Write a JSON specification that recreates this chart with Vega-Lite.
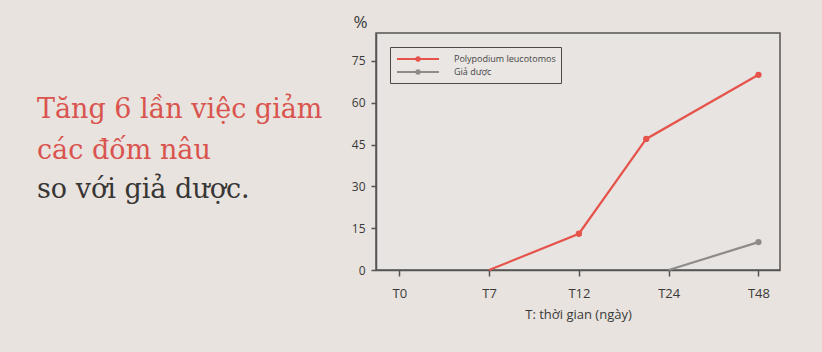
{
  "$schema": "https://vega.github.io/schema/vega-lite/v6.json",
  "autosize": {"type": "none"},
  "width": 404,
  "height": 237,
  "padding": {"left": 376, "top": 33, "right": 42, "bottom": 82},
  "background": "#e8e3de",
  "title": {
    "text": ["Tăng 6 lần việc giảm", "các đốm nâu"],
    "subtitle": "so với giả dược.",
    "anchor": "start",
    "frame": "group",
    "orient": "top",
    "dx": -339,
    "dy": 195,
    "font": "DejaVu Serif",
    "fontSize": 27,
    "fontWeight": "normal",
    "lineHeight": 41,
    "color": "#d9544e",
    "subtitleFont": "DejaVu Serif",
    "subtitleFontSize": 27,
    "subtitleColor": "#383635",
    "subtitleLineHeight": 41,
    "subtitlePadding": 12
  },
  "data": {
    "values": [
      {"series": "Polypodium leucotomos", "x": 1, "value": 0},
      {"series": "Polypodium leucotomos", "x": 2, "value": 13},
      {"series": "Polypodium leucotomos", "x": 2.75, "value": 47},
      {"series": "Polypodium leucotomos", "x": 4, "value": 70},
      {"series": "Giả dược", "x": 3, "value": 0},
      {"series": "Giả dược", "x": 4, "value": 10}
    ]
  },
  "encoding": {
    "x": {
      "field": "x",
      "type": "quantitative",
      "scale": {"domain": [-0.26, 4.24], "nice": false, "zero": false},
      "axis": {
        "values": [0, 1, 2, 3, 4],
        "labelExpr": "['T0','T7','T12','T24','T48'][datum.value]",
        "title": "T: thời gian (ngày)",
        "grid": false,
        "tickSize": 6,
        "labelPadding": 11,
        "labelFontSize": 13,
        "titlePadding": 8
      }
    },
    "y": {
      "field": "value",
      "type": "quantitative",
      "scale": {"domain": [0, 85], "nice": false},
      "axis": {
        "values": [0, 15, 30, 45, 60, 75],
        "title": "%",
        "titleAngle": 0,
        "titleX": -16,
        "titleY": -11,
        "titleAlign": "center",
        "titleBaseline": "middle",
        "titleFontSize": 17,
        "grid": false,
        "tickSize": 5,
        "labelPadding": 6
      }
    },
    "color": {
      "field": "series",
      "type": "nominal",
      "scale": {"domain": ["Polypodium leucotomos", "Giả dược"], "range": ["#e5534b", "#8e8b89"]},
      "legend": {
        "title": null,
        "orient": "top-left",
        "offset": 14,
        "padding": 5,
        "strokeColor": "#4a4a4a",
        "fillColor": "#e9e6e3",
        "labelFontSize": 9,
        "labelFont": "Open Sans",
        "labelColor": "#444",
        "symbolType": "M-0.83,0H6.17M2.37,0a0.3,0.3 0 1,0 0.6,0a0.3,0.3 0 1,0 -0.6,0",
        "symbolSize": 144,
        "symbolStrokeWidth": 1.8,
        "labelOffset": 45,
        "rowPadding": 0
      }
    }
  },
  "layer": [
    {"mark": {"type": "line", "strokeWidth": 2.2}},
    {
      "transform": [{"filter": "datum.value > 0"}],
      "mark": {"type": "circle", "size": 40, "opacity": 1}
    }
  ],
  "config": {
    "view": {"stroke": "#555", "strokeWidth": 1.5, "fill": "#e7e4e2"},
    "axis": {
      "domainColor": "#555",
      "domainWidth": 1.5,
      "tickColor": "#555",
      "tickWidth": 1.5,
      "labelFont": "Open Sans",
      "labelFontSize": 12,
      "labelColor": "#3a3a3a",
      "titleFont": "Open Sans",
      "titleFontSize": 13,
      "titleFontWeight": "normal",
      "titleColor": "#3a3a3a"
    }
  }
}
